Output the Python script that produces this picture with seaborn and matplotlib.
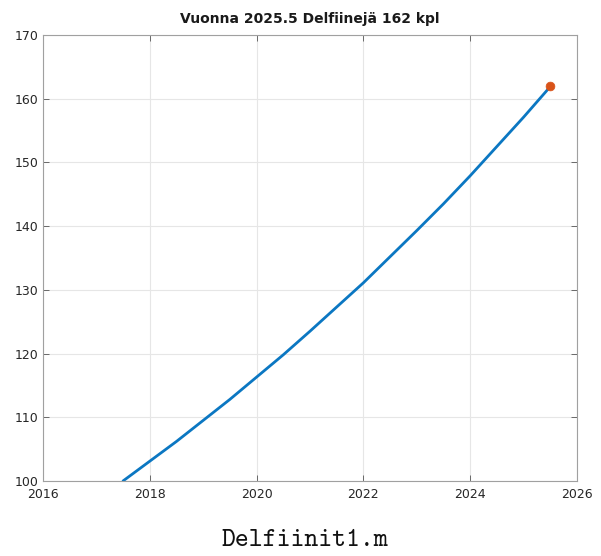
import matplotlib
matplotlib.use("Agg")
import numpy as np
import pandas as pd
import seaborn as sns
import matplotlib.pyplot as plt

# values
years = [2017.5, 2018.0, 2018.5, 2019.0, 2019.5, 2020.0, 2020.5, 2021.0, 2021.5,
         2022.0, 2022.5, 2023.0, 2023.5, 2024.0, 2024.5, 2025.0, 2025.5]
dolphins = [100.0, 103.1, 106.2, 109.5, 112.8, 116.3, 119.8, 123.5, 127.3,
            131.1, 135.2, 139.3, 143.5, 147.9, 152.5, 157.1, 161.9]
last_year = [2025.5]
last_count = [162]
x_ticks = [2016, 2018, 2020, 2022, 2024, 2026]
y_ticks = [100, 110, 120, 130, 140, 150, 160, 170]

df = pd.DataFrame({"year": years, "count": dolphins})
pt = pd.DataFrame({"year": last_year, "count": last_count})

sns.set_style("white")
plt.rcParams["font.family"] = ["DejaVu Sans"]

fig = plt.figure(figsize=(6.01, 5.56), dpi=100)
ax = fig.add_axes([0.0715, 0.135, 0.8885, 0.802])

sns.lineplot(data=df, x="year", y="count", ax=ax, color="#0b77c2", linewidth=2)
sns.scatterplot(data=pt, x="year", y="count", ax=ax, color="#D95319", s=40,
                edgecolor="#D95319", zorder=5)

ax.set_xlim(2016, 2026)
ax.set_ylim(100, 170)
ax.set_xticks(x_ticks)
ax.set_yticks(y_ticks)
ax.set_xlabel("")
ax.set_ylabel("")
ax.grid(True, color="#e6e6e6", linewidth=0.8)
ax.set_axisbelow(True)
for s in ax.spines.values():
    s.set_color("#a0a0a0")
    s.set_linewidth(0.8)
ax.tick_params(direction="in", length=4, width=0.6, color="#555555",
               labelsize=9, labelcolor="#262626", top=True, right=True,
               left=True, bottom=True, pad=3)
ax.tick_params(axis="x", pad=5)

ax.set_title("Vuonna 2025.5 Delfiinejä 162 kpl", fontsize=10, fontweight="bold",
             color="#1a1a1a", pad=9)
fig.text(0.508, 0.008, "Delfiinit1.m", fontsize=19,
         family=["cmtt10", "DejaVu Sans Mono"],
         ha="center", va="bottom", color="#111111")

fig.savefig("out.png", dpi=100)
plt.close(fig)
